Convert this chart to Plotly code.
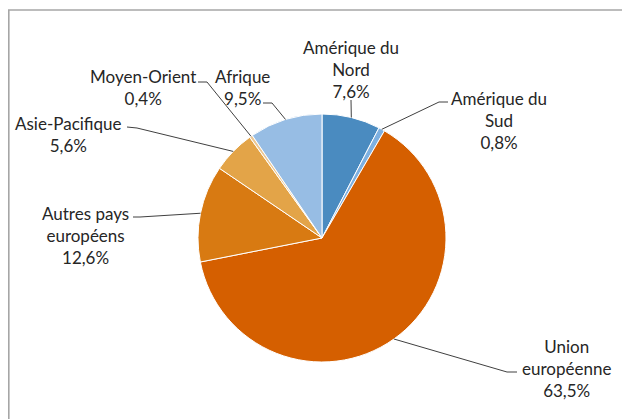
import math
import plotly.graph_objects as go

# ---- data ----
regions = ["Amérique du<br>Nord", "Amérique du<br>Sud", "Union<br>européenne",
           "Autres pays<br>européens", "Asie-Pacifique", "Moyen-Orient", "Afrique"]
shares = [7.6, 0.8, 63.5, 12.6, 5.6, 0.4, 9.5]
share_labels = ["7,6%", "0,8%", "63,5%", "12,6%", "5,6%", "0,4%", "9,5%"]
colors = ["#4a8bc0", "#7eb0e0", "#d55f00", "#d87a12", "#e3a448", "#ecc894", "#97bde4"]

# ---- layout (screen pixels; page body has an 8px margin) ----
W, H = 630, 419
OFF = 8
CX, CY, R = 322, 238, 124
label_pos = [(351, 70), (499, 120), (566, 368), (85, 235), (68, 134), (143, 87), (242, 87)]
elbows = [None, ((439, 102), (448, 102)), ((507, 372), (517, 372)),
          ((140, 217), (133, 217)), ((137, 128), (127, 127)),
          ((207, 82), (198, 82)), ((272, 103), (263, 103))]
nord_end = (351, 100)

px = lambda x: (x - OFF) / W
py = lambda y: 1 - (y - OFF) / H

fig = go.Figure(go.Pie(
    labels=[r.replace("<br>", " ") for r in regions], values=shares, sort=False,
    direction="clockwise", rotation=0, textinfo="none", hoverinfo="label+percent",
    marker=dict(colors=colors, line=dict(color="white", width=1)),
    domain=dict(x=[px(CX - R), px(CX + R)], y=[py(CY + R), py(CY - R)]),
    showlegend=False,
))

shapes = []
annotations = []
total = sum(shares)
cum = 0
for i, v in enumerate(shares):
    mid = (cum + v / 2) / total * 2 * math.pi
    cum += v
    ex, ey = CX + R * math.sin(mid), CY - R * math.cos(mid)
    if elbows[i] is None:
        pts = [(ex, ey), nord_end]
    else:
        pts = [(ex, ey), elbows[i][0], elbows[i][1]]
    path = "M " + " L ".join(f"{px(a)},{py(b)}" for a, b in pts)
    shapes.append(dict(type="path", xref="paper", yref="paper", path=path,
                       line=dict(color="#404040", width=1)))
    lx, ly = label_pos[i]
    annotations.append(dict(x=px(lx), y=py(ly), xref="paper", yref="paper",
                            text=f"{regions[i]}<br>{share_labels[i]}", showarrow=False,
                            xanchor="center", yanchor="middle", align="center",
                            font=dict(family="Lato", size=17, color="#262626")))

shapes.append(dict(type="rect", xref="paper", yref="paper",
                   x0=px(8.8), y0=py(440), x1=px(660), y1=py(10),
                   line=dict(color="#a6a6a6", width=1.6), fillcolor="rgba(0,0,0,0)"))

fig.update_layout(width=W, height=H, margin=dict(l=0, r=0, t=0, b=0),
                  paper_bgcolor="white", plot_bgcolor="white",
                  shapes=shapes, annotations=annotations)
fig.write_html("out.html")
